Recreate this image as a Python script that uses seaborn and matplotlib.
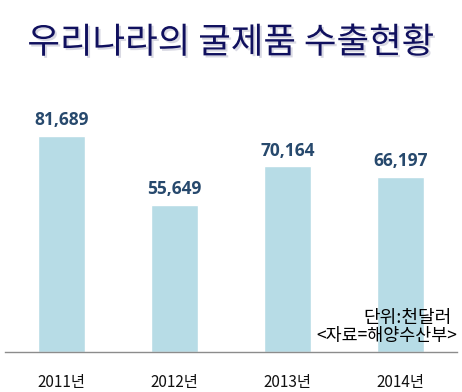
import numpy as np
import pandas as pd
import seaborn as sns
import matplotlib.pyplot as plt
import matplotlib.patheffects as pe

# DATA
years = ["2011년", "2012년", "2013년", "2014년"]
exports = [81689, 55649, 70164, 66197]
title = "우리나라의 굴제품 수출현황"
unit_note = "단위:천달러"
source_note = "<자료=해양수산부>"

df = pd.DataFrame({"year": years, "value": exports})

sns.set_style("white")
plt.rcParams["font.family"] = ["Noto Sans CJK KR", "DejaVu Sans"]

fig = plt.figure(figsize=(4.62, 3.92), dpi=100)
ax = fig.add_axes([5 / 462, 40 / 392, 452 / 462, 252 / 392])

sns.barplot(data=df, x="year", y="value", color="#b7dce6", width=0.41,
            saturation=1, ax=ax)

ax.set_xlim(-0.5, 3.5)
ax.set_ylim(0, 95300)

# value labels
for i, v in enumerate(exports):
    ax.annotate(f"{v:,}", (i, v), xytext=(0, 5), textcoords="offset points",
                ha="center", va="bottom", fontsize=12.5, fontweight="bold",
                family=["Open Sans", "DejaVu Sans"], color="#27496d")

# axis styling
for s in ["top", "left", "right"]:
    ax.spines[s].set_visible(False)
ax.spines["bottom"].set_color("#8c8c8c")
ax.spines["bottom"].set_linewidth(1)
ax.set_yticks([])
ax.set_xlabel("")
ax.set_ylabel("")
ax.set_xticks(np.arange(-0.5, 4, 1), minor=True)
ax.tick_params(axis="x", which="minor", length=8, color="#8c8c8c", width=1)
ax.tick_params(axis="x", which="major", length=0, pad=16, labelsize=11,
               labelcolor="#111111")

# title with shadow
fig.text(0.5, 1 - 43 / 392, title, ha="center", va="center", fontsize=25.5,
         fontweight="medium", color="#10105e",
         path_effects=[pe.withSimplePatchShadow(offset=(1.5, -1.5), shadow_rgbFace="#b4b4c8", alpha=0.5)])

# notes
fig.text(452 / 462, 1 - 318 / 392, unit_note, ha="right", va="center",
         fontsize=13, fontweight="medium", color="black")
fig.text(457 / 462, 1 - 336 / 392, source_note, ha="right", va="center",
         fontsize=12.5, fontweight="medium", color="black")

fig.savefig("out.png", dpi=100)
